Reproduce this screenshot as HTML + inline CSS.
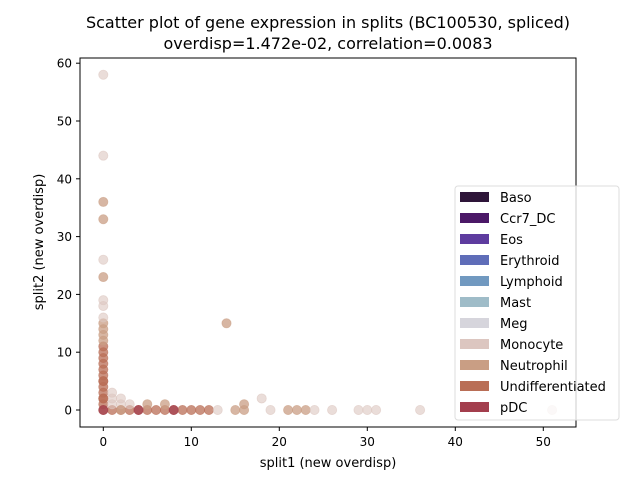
<!DOCTYPE html>
<html><head><meta charset="utf-8"><style>
body{margin:0;background:#fff;font-family:"Liberation Sans","DejaVu Sans",sans-serif}
</style></head><body>
<svg width="640" height="480" xmlns="http://www.w3.org/2000/svg" font-family="DejaVu Sans, Liberation Sans, sans-serif">
<text x="328" y="28" text-anchor="middle" font-size="16">Scatter plot of gene expression in splits (BC100530, spliced)</text>
<text x="328" y="49" text-anchor="middle" font-size="16">overdisp=1.472e-02, correlation=0.0083</text>
<g id="pts"></g>
<rect x="80" y="58" width="496" height="369" fill="none" stroke="#000" stroke-width="1"/>
<g id="axes"></g>
<text x="328" y="467" text-anchor="middle" font-size="13">split1 (new overdisp)</text>
<text transform="translate(43,242) rotate(-90)" text-anchor="middle" font-size="13">split2 (new overdisp)</text>
<g id="legend"></g>
</svg>
<script>
const xs=[0,0,0,0,0,0,0,0,0,0,0,0,0,0,0,0,0,0,0,0,0,0,0,0,0,1,2,3,4,5,6,7,8,9,10,11,12,13,15,16,19,21,22,23,24,26,29,30,31,36,51,1,1,1,2,2,3,5,7,16,18,14,0,0,0,2,4,8];
const ys=[0,1,2,3,4,5,6,7,8,9,10,11,12,13,14,15,16,18,19,23,26,33,36,44,58,0,0,0,0,0,0,0,0,0,0,0,0,0,0,0,0,0,0,0,0,0,0,0,0,0,0,1,2,3,1,2,1,1,1,1,2,15,0,2,5,0,0,0];
const cats=[9,9,9,9,9,9,9,9,9,9,9,9,8,8,8,8,7,7,7,8,7,8,8,7,7,9,9,9,9,9,9,9,9,9,9,9,9,7,8,8,7,8,8,8,7,7,7,7,7,7,7,7,7,7,7,7,7,8,8,8,7,8,10,9,9,8,10,10];
const xTicks=[0,10,20,30,40,50];
const yTicks=[0,10,20,30,40,50,60];
const legendLabels=["Baso","Ccr7_DC","Eos","Erythroid","Lymphoid","Mast","Meg","Monocyte","Neutrophil","Undifferentiated","pDC"];
const legendColors=["#2e1539","#4b1867","#5e3c9f","#5f6db8","#7199c0","#9fbcc8","#d6d5dc","#dcc6c0","#c99e84","#b96e56","#a33e4d"];
const X=v=>103.3+v*8.8, Y=v=>410-v*5.78;
const NS="http://www.w3.org/2000/svg";
const pts=document.getElementById('pts');
xs.forEach((x,i)=>{const c=document.createElementNS(NS,'circle');
const op=cats[i]===7?0.6:0.75;
c.setAttribute('cx',X(x));c.setAttribute('cy',Y(ys[i]));c.setAttribute('r',4.6);
c.setAttribute('fill',legendColors[cats[i]]);c.setAttribute('fill-opacity',op);
c.setAttribute('stroke',legendColors[cats[i]]);c.setAttribute('stroke-opacity',0.6);c.setAttribute('stroke-width',0.8);


pts.appendChild(c);});
const ax=document.getElementById('axes');
xTicks.forEach(t=>{const l=document.createElementNS(NS,'line');l.setAttribute('x1',X(t));l.setAttribute('x2',X(t));l.setAttribute('y1',427);l.setAttribute('y2',431);l.setAttribute('stroke','#000');

ax.appendChild(l);
const s=document.createElementNS(NS,'text');s.setAttribute('x',X(t));s.setAttribute('y',446);s.setAttribute('text-anchor','middle');s.setAttribute('font-size','12');s.textContent=t;

ax.appendChild(s);});
yTicks.forEach(t=>{const l=document.createElementNS(NS,'line');l.setAttribute('x1',76);l.setAttribute('x2',80);l.setAttribute('y1',Y(t));l.setAttribute('y2',Y(t));l.setAttribute('stroke','#000');

ax.appendChild(l);
const s=document.createElementNS(NS,'text');s.setAttribute('x',72);s.setAttribute('y',Y(t)+4.5);s.setAttribute('text-anchor','end');s.setAttribute('font-size','12');s.textContent=t;

ax.appendChild(s);});
const lg=document.getElementById('legend');
const box=document.createElementNS(NS,'rect');box.setAttribute('x',455);box.setAttribute('y',186);box.setAttribute('width',164);box.setAttribute('height',234);box.setAttribute('rx',3);box.setAttribute('fill','#fff');box.setAttribute('fill-opacity','0.8');box.setAttribute('stroke','#ddd');

lg.appendChild(box);
legendLabels.forEach((n,i)=>{const y=197+i*21;
const r=document.createElementNS(NS,'rect');r.setAttribute('x',460);r.setAttribute('y',y-5);r.setAttribute('width',29);r.setAttribute('height',10);r.setAttribute('fill',legendColors[i]);

lg.appendChild(r);
const s=document.createElementNS(NS,'text');s.setAttribute('x',500);s.setAttribute('y',y+5);s.setAttribute('font-size','13');s.textContent=n;

lg.appendChild(s);});
</script>
</body></html>
